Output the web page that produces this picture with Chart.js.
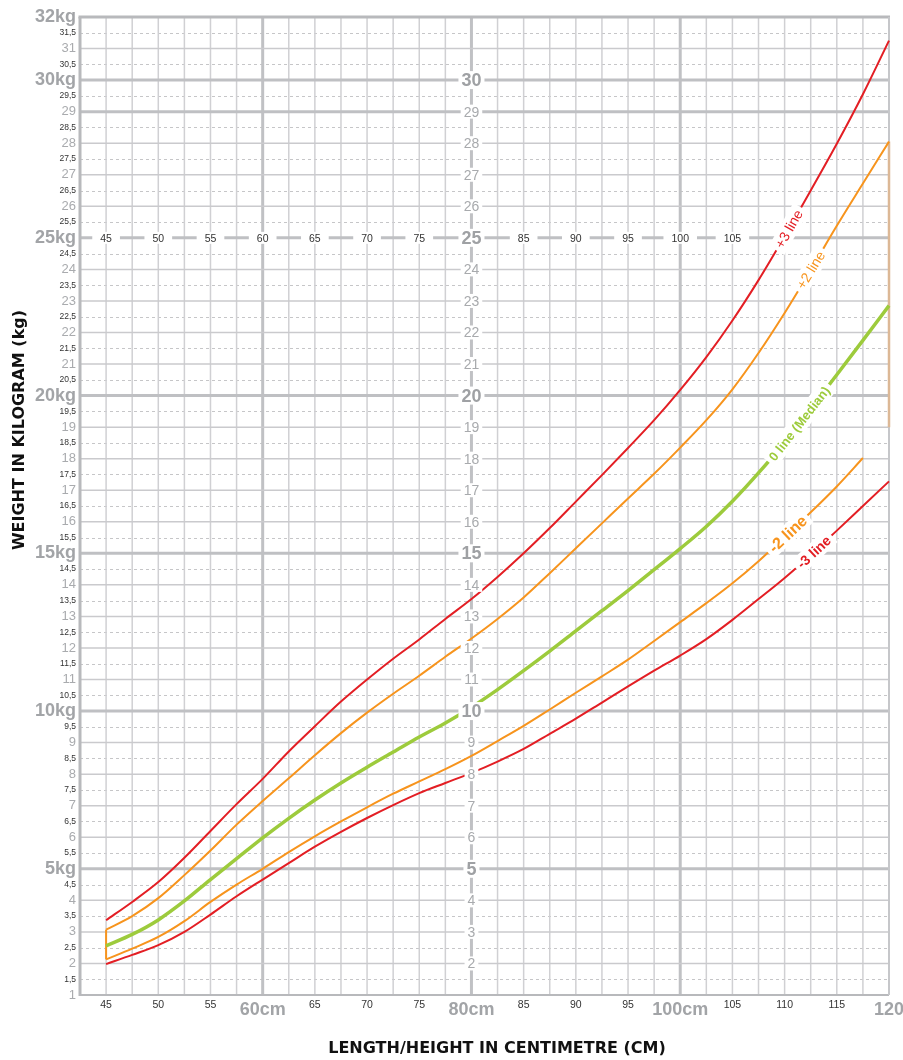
<!DOCTYPE html>
<html>
<head>
<meta charset="utf-8">
<script src="https://cdn.jsdelivr.net/npm/chart.js@4.4.1/dist/chart.umd.min.js"></script>
<style>
  body { margin: 0; background: #fff; }
  canvas { display: block; }
</style>
</head>
<body>
<canvas id="myChart" width="903" height="1060"></canvas>
<script>
// length/height in cm, every 2.5 cm
const lengths = [45, 47.5, 50, 52.5, 55, 57.5, 60, 62.5, 65, 67.5, 70, 72.5, 75, 77.5, 80,
  82.5, 85, 87.5, 90, 92.5, 95, 97.5, 100, 102.5, 105, 107.5, 110, 112.5, 115, 117.5, 120];

// weight in kg
const plus3 = [3.37, 3.95, 4.58, 5.35, 6.2, 7.05, 7.85, 8.72, 9.52, 10.3, 11.0, 11.66, 12.27, 12.92, 13.55,
  14.25, 15.0, 15.8, 16.64, 17.48, 18.34, 19.22, 20.18, 21.22, 22.38, 23.66, 25.05, 26.5, 27.98, 29.55, 31.25];
const plus2 = [3.07, 3.5, 4.07, 4.8, 5.58, 6.4, 7.15, 7.87, 8.6, 9.3, 9.95, 10.55, 11.12, 11.72, 12.3,
  12.92, 13.6, 14.37, 15.16, 15.95, 16.74, 17.52, 18.35, 19.22, 20.2, 21.35, 22.62, 23.98, 25.38, 26.72, 28.05];
const median = [2.56, 2.92, 3.38, 3.98, 4.66, 5.32, 5.98, 6.6, 7.18, 7.72, 8.22, 8.7, 9.18, 9.62, 10.12,
  10.68, 11.28, 11.9, 12.54, 13.18, 13.82, 14.48, 15.15, 15.85, 16.65, 17.55, 18.52, 19.58, 20.66, 21.75, 22.85];
const minus2 = [2.13, 2.47, 2.84, 3.34, 3.95, 4.5, 5.0, 5.53, 6.03, 6.5, 6.95, 7.38, 7.77, 8.16, 8.58,
  9.05, 9.53, 10.05, 10.58, 11.1, 11.63, 12.22, 12.82, 13.42, 14.05, 14.75, 15.52, 16.3, 17.12, 18.02];
const minus3 = [1.98, 2.27, 2.58, 3.0, 3.55, 4.13, 4.66, 5.18, 5.7, 6.17, 6.61, 7.02, 7.4, 7.72, 8.04,
  8.4, 8.8, 9.28, 9.76, 10.27, 10.78, 11.28, 11.76, 12.28, 12.89, 13.55, 14.22, 14.95, 15.72, 16.5, 17.28];
const rightEdgeLow = 19; // lower end of the tan bar at 120 cm

// tick labels
const xTicks = [45, 50, 55, 60, 65, 70, 75, 80, 85, 90, 95, 100, 105, 110, 115, 120];
const xBig = [60, 80, 100, 120];
const yBig = [5, 10, 15, 20, 25, 30, 32];
const rowLabels = [45, 50, 55, 60, 65, 70, 75, 85, 90, 95, 100, 105]; // along the 25 kg line
const colLabels = [2, 3, 4, 5, 6, 7, 8, 9, 10, 11, 12, 13, 14, 15, 16, 17, 18, 19, 20, 21, 22, 23, 24, 25, 26, 27, 28, 29, 30]; // along 80 cm

const RED = '#e31e24';
const ORANGE = '#f7941d';
const GREEN = '#9dcb3c';
const TAN = '#dcb896';
const GREY = '#a2a4a7';
const SANS = '"Liberation Sans", Arial, sans-serif';

function pairs(xs, ys) {
  return ys.map((y, i) => ({ x: xs[i], y }));
}

function curve(data, color, width) {
  return {
    data,
    borderColor: color,
    borderWidth: width,
    pointRadius: 0,
    cubicInterpolationMode: 'monotone',
    fill: false,
    clip: false,
  };
}

const datasets = [
  curve(pairs(lengths, plus3), RED, 2),
  curve(pairs(lengths, plus2), ORANGE, 2),
  curve(pairs(lengths, minus2), ORANGE, 2),
  curve(pairs(lengths, minus3), RED, 2),
  curve(pairs(lengths, median), GREEN, 3.5),
  curve([{ x: lengths[0], y: minus2[0] }, { x: lengths[0], y: plus2[0] }], ORANGE, 2),
  curve([{ x: lengths[lengths.length - 1], y: plus2[plus2.length - 1] }, { x: lengths[lengths.length - 1], y: rightEdgeLow }], TAN, 2.5),
];

// where the names sit on the curves (dataset index, length in cm)
const curveLabels = [
  { ds: 0, at: 110.4, text: '+3 line', font: '14px ' + SANS, color: RED },
  { ds: 1, at: 112.5, text: '+2 line', font: '14px ' + SANS, color: ORANGE },
  { ds: 4, at: 111.4, text: '0 line (Median)', font: 'bold 13px ' + SANS, color: GREEN },
  { ds: 2, at: 110.3, text: '-2 line', font: 'bold 16px ' + SANS, color: ORANGE },
  { ds: 3, at: 112.8, text: '-3 line', font: 'bold 14px ' + SANS, color: RED },
];

function onCurve(chart, ds, at) {
  const pts = chart.getDatasetMeta(ds).data;
  const px = chart.scales.x.getPixelForValue(at);
  for (let i = 0; i < pts.length - 1; i++) {
    const a = pts[i], b = pts[i + 1];
    if (px >= a.x && px <= b.x) {
      const t = (px - a.x) / (b.x - a.x);
      return { x: px, y: a.y + t * (b.y - a.y), angle: Math.atan2(b.y - a.y, b.x - a.x) };
    }
  }
  return null;
}

function hline(ctx, x1, x2, y) {
  ctx.beginPath(); ctx.moveTo(x1, y); ctx.lineTo(x2, y); ctx.stroke();
}
function vline(ctx, x, y1, y2) {
  ctx.beginPath(); ctx.moveTo(x, y1); ctx.lineTo(x, y2); ctx.stroke();
}

const paperGrid = {
  id: 'paperGrid',
  beforeDatasetsDraw(chart) {
    const { ctx, chartArea: a, scales: { x, y } } = chart;
    ctx.save();
    // half-kg dashed lines
    ctx.strokeStyle = '#c6c6c8';
    ctx.lineWidth = 1;
    ctx.setLineDash([3, 3]);
    for (let v = 1.5; v < 32; v += 1) {
      hline(ctx, a.left, a.right, Math.round(y.getPixelForValue(v)) + 0.5);
    }
    ctx.setLineDash([]);
    // vertical lines every 2.5 cm
    for (let v = 45; v < 120; v += 2.5) {
      const big = v === 60 || v === 80 || v === 100;
      ctx.strokeStyle = big ? '#c0c1c4' : '#d0d0d3';
      ctx.lineWidth = big ? 3 : 1.5;
      vline(ctx, x.getPixelForValue(v), a.top, a.bottom);
    }
    // whole-kg lines
    for (let v = 2; v < 32; v++) {
      const big = v % 5 === 0 || v === 29;
      ctx.strokeStyle = big ? '#bfc0c3' : '#cacacd';
      ctx.lineWidth = big ? 3 : 1.5;
      hline(ctx, a.left, a.right, y.getPixelForValue(v));
    }
    // frame
    ctx.strokeStyle = '#b8b9bc';
    ctx.lineWidth = 3;
    hline(ctx, a.left - 1.5, a.right + 1, a.top);
    vline(ctx, a.left, a.top, a.bottom + 1);
    ctx.lineWidth = 2;
    hline(ctx, a.left, a.right, a.bottom);
    ctx.strokeStyle = '#c6c7ca';
    vline(ctx, a.right, a.top, a.bottom);
    ctx.restore();
  },
  afterDatasetsDraw(chart) {
    const { ctx, scales: { x, y } } = chart;
    ctx.save();
    ctx.textAlign = 'center';
    ctx.textBaseline = 'middle';

    // row of cm numbers along 25 kg
    const rowY = y.getPixelForValue(25);
    ctx.font = '10.5px ' + SANS;
    rowLabels.forEach(v => {
      const px = x.getPixelForValue(v);
      const t = String(v);
      const w = ctx.measureText(t).width;
      ctx.fillStyle = '#fff';
      ctx.fillRect(px - w / 2 - 8, rowY - 6, w + 16, 12);
      ctx.fillStyle = '#333';
      ctx.fillText(t, px, rowY + 1);
    });

    // column of kg numbers along 80 cm
    const colX = x.getPixelForValue(80);
    colLabels.forEach(v => {
      const big = v % 5 === 0;
      ctx.font = (big ? 'bold 18px ' : '14px ') + SANS;
      const t = String(v);
      const w = ctx.measureText(t).width;
      const py = y.getPixelForValue(v);
      ctx.fillStyle = '#fff';
      ctx.fillRect(colX - w / 2 - 3, py - (big ? 9 : 7), w + 6, big ? 18 : 14);
      ctx.fillStyle = big ? '#9fa1a4' : '#a8aaad';
      ctx.fillText(t, colX, py + 1);
    });

    // curve names
    curveLabels.forEach(l => {
      const p = onCurve(chart, l.ds, l.at);
      if (!p) return;
      ctx.save();
      ctx.translate(p.x, p.y);
      ctx.rotate(p.angle);
      ctx.font = l.font;
      const w = ctx.measureText(l.text).width;
      ctx.fillStyle = '#fff';
      ctx.fillRect(-w / 2 - 4, -9, w + 8, 18);
      ctx.fillStyle = l.color;
      ctx.fillText(l.text, 0, 1);
      ctx.restore();
    });

    // axis titles
    ctx.fillStyle = '#111';
    ctx.font = 'bold 16px "DejaVu Sans", sans-serif';
    ctx.fillText('LENGTH/HEIGHT IN CENTIMETRE (CM)', 497, 1049);
    ctx.save();
    ctx.translate(20, 430);
    ctx.rotate(-Math.PI / 2);
    ctx.fillText('WEIGHT IN KILOGRAM (kg)', 0, 0);
    ctx.restore();
    ctx.restore();
  },
};

const ctx = document.getElementById('myChart').getContext('2d');
const myChart = new Chart(ctx, {
  type: 'line',
  data: { datasets },
  options: {
    responsive: false,
    animation: false,
    layout: { padding: { top: 17, right: 14, left: 0, bottom: 0 } },
    plugins: {
      legend: { display: false },
      tooltip: { enabled: false },
    },
    scales: {
      x: {
        type: 'linear',
        min: 42.5,
        max: 120,
        grid: { display: false, drawTicks: false },
        border: { display: false },
        afterBuildTicks: s => { s.ticks = xTicks.map(v => ({ value: v })); },
        afterFit: s => { s.height = 65; s.paddingRight = 0; },
        ticks: {
          autoSkip: false,
          maxRotation: 0,
          minRotation: 0,
          padding: 4,
          callback: v => (xBig.includes(v) && v !== 120 ? v + 'cm' : String(v)),
          font: c => (xBig.includes(c.tick && c.tick.value)
            ? { family: SANS, size: 18, weight: 'bold' }
            : { family: SANS, size: 10.5 }),
          color: c => (xBig.includes(c.tick && c.tick.value) ? GREY : '#333'),
        },
      },
      y: {
        type: 'linear',
        min: 1,
        max: 32,
        grid: { display: false, drawTicks: false },
        border: { display: false },
        afterBuildTicks: s => {
          const t = [];
          for (let v = 1; v <= 32; v += 0.5) t.push({ value: v });
          s.ticks = t;
        },
        afterFit: s => { s.width = 80; },
        ticks: {
          autoSkip: false,
          padding: 4,
          callback: v => {
            if (yBig.includes(v)) return v + 'kg';
            if (Number.isInteger(v)) return String(v);
            return String(v).replace('.', ',');
          },
          font: c => {
            const v = c.tick && c.tick.value;
            if (yBig.includes(v)) return { family: SANS, size: 18, weight: 'bold' };
            if (Number.isInteger(v)) return { family: SANS, size: 13 };
            return { family: SANS, size: 8.5 };
          },
          color: c => {
            const v = c.tick && c.tick.value;
            if (yBig.includes(v)) return GREY;
            if (Number.isInteger(v)) return '#a9abae';
            return '#333';
          },
        },
      },
    },
  },
  plugins: [paperGrid],
});
</script>
</body>
</html>
